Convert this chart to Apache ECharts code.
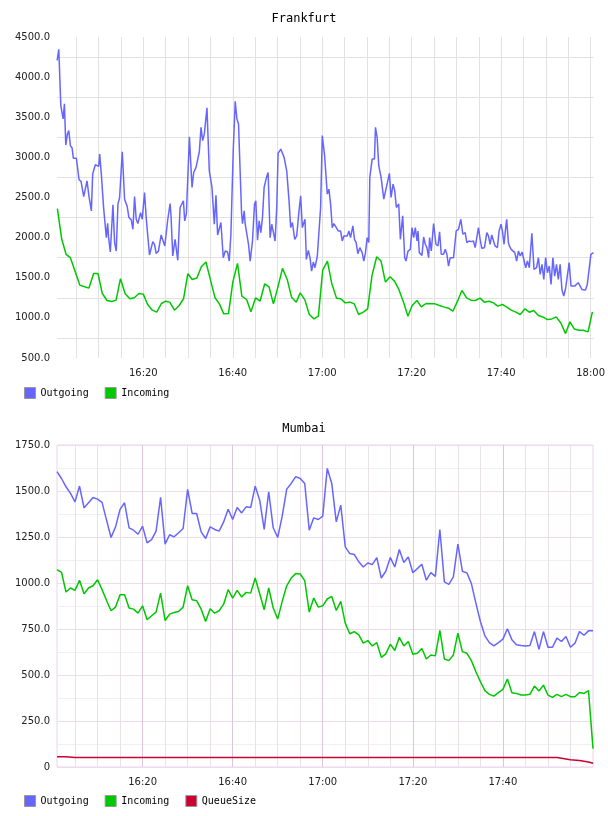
<!DOCTYPE html>
<html>
<head>
<meta charset="utf-8">
<script src="https://cdn.jsdelivr.net/npm/echarts@6/dist/echarts.min.js"></script>
<style>
  html, body { margin: 0; padding: 0; background: #fff; }
  #chart { width: 608px; height: 816px; }
</style>
</head>
<body>
<div id="chart"></div>
<script>
// Frankfurt: [minutes after 16:00, value]
const frankOutgoing = [
  [0.73,4208],[1.10,4346],[1.55,3646],[2.07,3479],[2.36,3667],[2.66,3154],[3.03,3292],[3.33,3333],[3.70,3146],[4.07,3117],
  [4.37,2988],[5.04,2988],[5.63,2721],[6.08,2700],[6.67,2512],[7.41,2708],[7.86,2512],[8.38,2333],[8.68,2792],[9.27,2908],
  [10.02,2888],[10.24,3042],[10.61,2792],[11.13,2367],[11.43,2346],[11.73,2000],[12.02,2179],[12.24,2000],[12.62,1821],[13.21,2408],
  [13.58,1938],[13.95,1833],[14.32,2417],[14.70,2500],[15.29,3071],[15.81,2479],[16.40,2387],[16.78,2250],[17.30,2221],[17.67,2104],
  [18.04,2512],[18.41,2229],[18.78,2175],[19.15,2167],[19.38,2312],[19.75,2229],[20.27,2562],[20.64,2250],[21.01,2229],[21.38,1783],
  [21.76,1763],[22.12,1950],[22.50,1917],[22.87,1804],[23.39,1833],[23.98,2033],[24.35,2029],[24.80,1896],[25.10,1883],[25.47,2229],
  [25.99,2425],[26.21,2250],[26.58,1771],[27.10,1979],[27.33,1958],[27.70,1717],[28.22,2375],[28.59,2367],[28.96,2458],[29.26,2208],
  [29.63,2300],[30.30,3258],[30.89,2625],[31.26,2812],[31.78,2875],[32.52,3070],[32.90,3375],[33.27,3208],[33.64,3292],[34.23,3617],
  [34.75,2833],[35.35,2625],[35.87,2167],[36.24,2529],[36.61,2033],[36.98,2021],[37.35,2188],[37.87,1750],[38.32,1833],[38.84,1821],
  [39.21,1708],[39.58,2042],[40.10,3083],[40.55,3700],[40.92,3479],[41.29,3417],[41.59,2917],[41.96,2312],[42.18,2175],[42.55,2333],
  [42.78,2167],[43.15,2188],[43.52,1917],[43.89,1708],[44.41,1958],[44.86,2417],[45.15,2458],[45.53,1967],[45.90,2208],[46.27,2063],
  [46.64,2250],[47.01,2625],[47.53,2750],[47.90,2812],[48.35,2000],[48.72,2167],[49.09,2146],[49.46,1958],[49.83,2375],[50.13,3050],
  [50.73,3104],[51.10,3117],[51.47,3000],[52.06,2833],[52.58,2458],[52.95,2125],[53.33,2188],[53.85,1979],[54.29,2021],[54.81,2333],
  [55.18,2521],[55.55,2125],[55.93,2104],[56.15,2229],[56.45,1729],[56.89,1842],[57.26,1750],[57.63,1583],[58.01,1696],[58.38,1625],
  [58.90,1771],[59.27,1758],[59.64,2375],[60.01,3271],[60.53,3021],[61.13,2542],[61.50,2604],[61.87,2417],[62.24,2125],[62.61,2175],
  [62.98,2167],[63.58,2083],[64.10,2083],[64.47,1958],[64.84,2021],[65.58,2021],[65.96,2083],[66.33,2000],[66.85,2146],[67.22,1979],
  [67.59,1938],[67.96,1800],[68.41,1875],[68.93,1813],[69.30,1708],[69.67,1813],[70.04,2000],[70.41,1938],[70.64,2750],[71.16,2979],
  [71.68,2979],[71.90,3375],[72.27,3250],[72.64,2896],[73.16,2750],[73.76,2479],[74.13,2500],[74.50,2667],[75.02,2800],[75.39,2500],
  [75.84,2667],[76.21,2583],[76.58,2375],[77.10,2420],[77.47,1979],[77.99,2271],[78.44,1750],[78.73,1708],[79.18,1833],[79.70,1854],
  [80.07,2125],[80.44,2000],[80.81,2125],[81.19,1958],[81.41,2083],[81.71,1813],[82.30,1779],[82.67,2008],[83.04,1917],[83.41,1875],
  [83.79,1750],[84.01,2000],[84.38,1833],[84.90,2175],[85.42,1917],[85.87,1896],[86.24,2071],[86.61,1792],[87.13,1792],[87.50,1854],
  [87.87,1792],[88.24,1646],[88.61,1750],[88.99,1771],[89.36,1750],[89.95,2083],[90.47,2104],[90.99,2229],[91.44,2042],[91.96,2063],
  [92.33,1938],[92.85,1958],[93.30,1950],[93.81,1958],[94.19,1875],[94.56,2000],[94.93,2125],[95.30,1979],[95.67,1867],[96.27,1875],
  [96.79,2063],[97.16,2021],[97.53,1917],[97.90,2033],[98.27,2042],[98.64,1896],[99.16,1875],[99.54,2083],[99.98,2167],[100.28,2083],
  [100.65,1917],[101.02,2125],[101.24,2229],[101.62,1938],[101.84,1896],[102.25,1854],[102.66,1833],[103.06,1813],[103.46,1708],[103.87,1833],
  [104.27,1771],[104.68,1821],[105.08,1833],[105.49,1625],[105.89,1708],[106.30,1625],[106.87,2054],[107.35,1604],[107.92,1625],[108.33,1750],
  [108.73,1542],[109.14,1667],[109.54,1479],[109.95,1750],[110.35,1563],[110.76,1646],[111.16,1417],[111.57,1750],[111.97,1521],[112.38,1667],
  [112.78,1479],[113.19,1667],[113.59,1354],[114.00,1271],[114.40,1363],[114.81,1354],[115.21,1688],[115.62,1396],[116.02,1417],[116.43,1396],
  [116.83,1417],[117.24,1438],[117.64,1425],[118.05,1354],[118.45,1333],[118.86,1346],[119.26,1417],[119.67,1396],[120.07,1792],[120.64,1813]
];
const frankIncoming = [
  [0.79,2362],[1.76,1979],[2.73,1792],[3.70,1750],[5.81,1408],[6.86,1387],[7.84,1371],[8.89,1554],[9.86,1554],[10.83,1304],
  [11.89,1217],[12.94,1204],[13.91,1221],[14.89,1488],[15.94,1300],[16.99,1238],[17.97,1250],[19.02,1304],[19.99,1296],[20.96,1167],
  [22.02,1096],[22.99,1071],[24.04,1179],[25.02,1208],[25.91,1196],[26.96,1096],[28.02,1154],[28.99,1238],[29.96,1550],[30.93,1479],
  [31.99,1496],[32.96,1638],[34.01,1696],[34.98,1479],[36.04,1250],[37.01,1175],[37.98,1050],[39.04,1054],[40.01,1446],[41.06,1679],
  [42.03,1271],[43.09,1229],[44.06,1075],[45.11,1250],[46.09,1208],[47.14,1425],[48.11,1387],[49.09,1175],[50.14,1396],[51.11,1617],
  [52.17,1479],[53.14,1258],[54.19,1196],[55.08,1312],[56.14,1221],[57.11,1042],[58.16,987],[59.14,1021],[60.11,1596],[61.16,1708],
  [62.13,1429],[63.19,1246],[64.16,1238],[65.13,1187],[66.18,1196],[67.16,1175],[68.13,1042],[69.18,1071],[70.16,1113],[71.13,1529],
  [72.18,1762],[73.15,1708],[74.13,1446],[75.18,1512],[76.15,1458],[77.13,1354],[78.18,1196],[79.15,1021],[80.12,1154],[81.18,1217],
  [82.15,1137],[83.20,1179],[84.18,1175],[85.23,1175],[86.20,1154],[87.17,1137],[88.23,1121],[89.20,1083],[90.25,1208],[91.23,1342],
  [92.28,1250],[93.25,1221],[94.22,1217],[95.28,1246],[96.25,1196],[97.30,1208],[98.28,1187],[99.25,1146],[100.30,1167],[101.28,1133],
  [102.25,1096],[103.30,1071],[104.27,1042],[105.33,1113],[106.30,1071],[107.27,1092],[108.33,1029],[109.30,1012],[110.35,979],[111.32,987],
  [112.30,1012],[113.35,937],[114.40,804],[115.38,950],[116.35,862],[117.40,846],[118.38,846],[119.43,825],[120.40,1075]
];

// Mumbai: one sample per minute, first sample at 16:01
const MUMBAI_FIRST_MIN = 1;
const mumbaiOutgoing = [
  1605,1568,1523,1487,1441,1527,1409,1436,1465,1456,
  1438,1342,1247,1305,1400,1436,1300,1287,1265,1309,
  1218,1236,1282,1465,1211,1262,1251,1273,1296,1509,
  1378,1378,1278,1242,1305,1291,1282,1332,1401,1345,
  1410,1381,1414,1410,1527,1450,1291,1496,1300,1247,
  1363,1510,1541,1578,1568,1541,1287,1354,1345,1363,
  1623,1541,1332,1423,1196,1160,1155,1115,1087,1109,
  1100,1138,1027,1064,1138,1087,1182,1111,1142,1056,
  1078,1102,1015,1056,1036,1291,1006,993,1033,1211,
  1064,1055,997,891,791,713,676,658,676,695,
  751,691,664,660,658,660,736,640,736,651,
  651,700,682,709,651,673,736,716,740,740
];
const mumbaiIncoming = [
  1073,1058,951,973,960,1015,942,973,985,1018,
  964,905,849,869,936,936,864,858,836,876,
  800,822,842,945,796,831,840,845,869,985,
  909,904,858,791,860,836,849,885,964,918,
  960,924,949,945,1027,942,855,973,864,804,
  900,985,1027,1051,1049,1013,842,918,869,876,
  913,927,851,900,782,724,736,718,673,687,
  658,676,596,615,667,633,705,658,682,613,
  618,644,587,609,604,742,587,578,609,727,
  627,618,578,518,464,415,395,385,404,422,
  478,404,400,391,391,395,440,413,445,391,
  378,395,382,395,382,382,405,400,415,100
];
// [minutes after 16:00, value]
const mumbaiQueue = [
  [1,56],[3,56],[5,51],[10,51],[20,51],[30,51],[40,51],[50,51],[60,51],[70,51],
  [80,51],[90,51],[100,51],[110,51],[112,51],[115,40],[117,35],[119,27],[120,20]
];

const frankYTicks = { min: 500, max: 4500, step: 250, labelStep: 500 };
const mumbaiYTicks = { min: 0, max: 1750, step: 125, labelStep: 250 };
const frankX = { min: 0.7, max: 120.7 };   // minutes after 16:00
const mumbaiX = { min: 1, max: 120 };

const perMinute = (vals, first) => vals.map((v, i) => [first + i, v]);
const hhmm = m => {
  const h = 16 + Math.floor(m / 60), mm = Math.round(m % 60);
  return String(h).padStart(2, '0') + ':' + String(mm).padStart(2, '0');
};
// ticks every 5 min, labels only on the 20 min marks
const every20 = m => (Math.abs(m / 20 - Math.round(m / 20)) < 1e-6 ? hhmm(m) : '');

const C_OUT = '#6666ff', C_IN = '#00c800', C_Q = '#cc0033';
const TICK_FONT = { fontFamily: 'DejaVu Sans', fontSize: 10, color: '#222' };
const MONO = 'DejaVu Sans Mono';

const yLabel = step => v => (Math.round(v) % step === 0 ? v.toFixed(1) : '');
const ySplitColors = (t, major, minor) => {
  const out = [];
  for (let v = t.min; v <= t.max + 1e-6; v += t.step) out.push(v % t.labelStep === 0 ? major : minor);
  return out;
};

const chart = echarts.init(document.getElementById('chart'), null, { renderer: 'canvas' });

const legendBase = {
  left: 19, icon: 'rect', itemWidth: 11, itemHeight: 11, itemGap: 16,
  itemStyle: { borderColor: '#999', borderWidth: 1 }, selectedMode: false,
  textStyle: { fontFamily: MONO, fontSize: 10, color: '#000' }
};

chart.setOption({
  animation: false,
  backgroundColor: '#fff',
  title: [
    { text: 'Frankfurt', left: 'center', top: 8, textStyle: { fontFamily: MONO, fontSize: 12, fontWeight: 'normal', color: '#000' } },
    { text: 'Mumbai', left: 'center', top: 418, textStyle: { fontFamily: MONO, fontSize: 12, fontWeight: 'normal', color: '#000' } }
  ],
  legend: [
    Object.assign({ data: ['Outgoing', 'Incoming'], top: 382 }, legendBase),
    Object.assign({ data: ['Outgoing', 'Incoming', 'QueueSize'], top: 790 }, legendBase)
  ],
  grid: [
    { left: 57, top: 37, width: 537, height: 321 },
    { left: 57, top: 445, width: 536, height: 322, show: true, borderColor: '#ead6ea', borderWidth: 1, backgroundColor: 'transparent' }
  ],
  xAxis: [
    {
      gridIndex: 0, type: 'value', min: frankX.min, max: frankX.max, minInterval: 5, maxInterval: 5, splitNumber: 24,
      axisLine: { show: false }, axisTick: { show: false },
      axisLabel: Object.assign({ formatter: every20, margin: 10, showMinLabel: false, showMaxLabel: false }, TICK_FONT),
      splitLine: { show: true, showMinLine: false, showMaxLine: false, lineStyle: { color: '#e2e2e2', width: 1 } }
    },
    {
      gridIndex: 1, type: 'value', min: mumbaiX.min, max: mumbaiX.max, minInterval: 5, maxInterval: 5, splitNumber: 24,
      axisLine: { show: false }, axisTick: { show: false }, axisLabel: { show: false },
      splitLine: { show: true, showMinLine: false, showMaxLine: false, lineStyle: { color: '#e8e1e8', width: 1 } }
    },
    {
      gridIndex: 1, type: 'value', position: 'bottom', min: mumbaiX.min, max: mumbaiX.max, minInterval: 20, maxInterval: 20, splitNumber: 6,
      axisLine: { show: false }, axisTick: { show: false },
      axisLabel: Object.assign({ formatter: m => (m >= mumbaiX.max ? '' : every20(m)), margin: 10, showMinLabel: false, showMaxLabel: false }, TICK_FONT),
      splitLine: { show: true, showMinLine: false, showMaxLine: false, lineStyle: { color: '#dcc6dc', width: 1 } }
    }
  ],
  yAxis: [
    {
      gridIndex: 0, type: 'value', min: frankYTicks.min, max: frankYTicks.max, interval: frankYTicks.step,
      axisLine: { show: false }, axisTick: { show: false },
      axisLabel: Object.assign({ formatter: yLabel(frankYTicks.labelStep), margin: 7 }, TICK_FONT),
      splitLine: { show: true, lineStyle: { color: ySplitColors(frankYTicks, 'rgba(0,0,0,0)', '#e2e2e2'), width: 1 } }
    },
    {
      gridIndex: 1, type: 'value', min: mumbaiYTicks.min, max: mumbaiYTicks.max, interval: mumbaiYTicks.step,
      axisLine: { show: false }, axisTick: { show: false },
      axisLabel: Object.assign({ formatter: v => (v === 0 ? '0' : yLabel(mumbaiYTicks.labelStep)(v)), margin: 7 }, TICK_FONT),
      splitLine: { show: true, lineStyle: { color: ySplitColors(mumbaiYTicks, '#eedcee', '#f3eef3'), width: 1 } }
    }
  ],
  series: [
    { name: 'Outgoing', type: 'line', xAxisIndex: 0, yAxisIndex: 0, data: frankOutgoing, showSymbol: false, color: C_OUT, lineStyle: { width: 1.5, color: C_OUT } },
    { name: 'Incoming', type: 'line', xAxisIndex: 0, yAxisIndex: 0, data: frankIncoming, showSymbol: false, color: C_IN, lineStyle: { width: 1.5, color: C_IN } },
    { name: 'Outgoing', type: 'line', xAxisIndex: 1, yAxisIndex: 1, data: perMinute(mumbaiOutgoing, MUMBAI_FIRST_MIN), showSymbol: false, color: C_OUT, lineStyle: { width: 1.5, color: C_OUT } },
    { name: 'Incoming', type: 'line', xAxisIndex: 1, yAxisIndex: 1, data: perMinute(mumbaiIncoming, MUMBAI_FIRST_MIN), showSymbol: false, color: C_IN, lineStyle: { width: 1.5, color: C_IN } },
    { name: 'QueueSize', type: 'line', xAxisIndex: 1, yAxisIndex: 1, data: mumbaiQueue, showSymbol: false, color: C_Q, lineStyle: { width: 1.5, color: C_Q } }
  ]
});
</script>
</body>
</html>
